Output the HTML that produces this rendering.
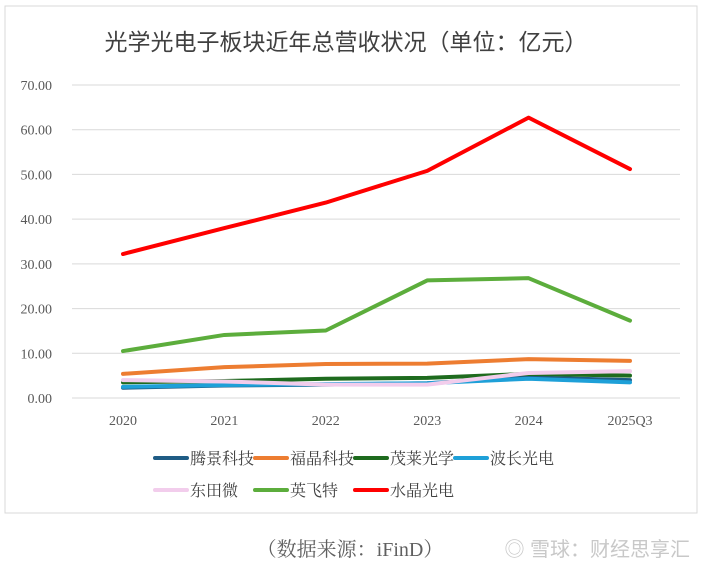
<!DOCTYPE html>
<html><head><meta charset="utf-8"><style>
body{margin:0;background:#fff;width:705px;height:567px;overflow:hidden;font-family:"Liberation Serif","Noto Serif CJK SC",serif}
</style></head><body>
<svg id="c" width="705" height="567" xmlns="http://www.w3.org/2000/svg">
<rect x="5" y="6" width="692" height="507" fill="#fff" stroke="#d9d9d9"/>
<text x="346" y="50" text-anchor="middle" font-size="23" fill="#404040" font-family="Liberation Sans,Noto Sans CJK SC,sans-serif">光学光电子板块近年总营收状况（单位：亿元）</text>
<text x="350" y="556" text-anchor="middle" font-size="20" fill="#606060">（数据来源：iFinD）</text>
<text x="690" y="556" text-anchor="end" font-size="20" fill="#c8c8c8" font-family="Liberation Sans,Noto Sans CJK SC,sans-serif">◎ 雪球：财经思享汇</text>
<g id="plot"></g>
</svg>
<script>
const categories=["2020","2021","2022","2023","2024","2025Q3"];
const yTicks=["0.00","10.00","20.00","30.00","40.00","50.00","60.00","70.00"];
const names=["腾景科技","福晶科技","茂莱光学","波长光电","东田微","英飞特","水晶光电"];
const colors=["#1f5c85","#ed7d31","#1e6b1e","#1ea0d8","#f2cdec","#5cad3c","#ff0000"];
const sTengjing=[2.3,2.8,3.0,3.3,4.6,4.0];
const sFujing=[5.4,6.9,7.6,7.7,8.7,8.3];
const sMaolai=[3.5,3.8,4.3,4.5,5.4,5.0];
const sBochang=[2.5,2.9,3.1,3.3,4.3,3.5];
const sDongtian=[4.0,3.7,3.0,3.0,5.6,6.0];
const sYingfeite=[10.5,14.1,15.1,26.3,26.8,17.3];
const sShuijing=[32.2,38.0,43.7,50.8,62.7,51.2];
const series=[sTengjing,sFujing,sMaolai,sBochang,sDongtian,sYingfeite,sShuijing];
const NS="http://www.w3.org/2000/svg";
const g=document.getElementById('plot');
const x=i=>123+i*101.4, y=v=>398-v*(313/70);
function mk(t,a,p){const e=document.createElementNS(NS,t);for(const k in a)e.setAttribute(k,a[k]);(p||g).appendChild(e);return e;}
yTicks.forEach((t,i)=>{const v=parseFloat(t);
 const l=mk('line',{x1:72,x2:680,y1:y(v),y2:y(v),stroke:'#d9d9d9','stroke-width':1});
 
 
 const tx=mk('text',{x:52,y:y(v)+5,'text-anchor':'end','font-size':14,fill:'#595959'});tx.textContent=t;
 
 
});
categories.forEach((c,i)=>{const tx=mk('text',{x:x(i),y:425,'text-anchor':'middle','font-size':14,fill:'#595959'});tx.textContent=c;
 
 
});
series.forEach((s,k)=>{
 const p=mk('polyline',{points:s.map((v,i)=>x(i)+','+y(v)).join(' '),fill:'none',stroke:colors[k],'stroke-width':4,'stroke-linejoin':'round','stroke-linecap':'round'});
 
 
});
names.forEach((n,k)=>{const r=k<4?0:1,c=k<4?k:k-4;const lx=155+c*100,ly=458+r*32;
 const l=mk('line',{x1:lx,x2:lx+32,y1:ly,y2:ly,stroke:colors[k],'stroke-width':4,'stroke-linecap':'round'});
 
 
 const t=mk('text',{x:lx+35,y:ly+6,'font-size':16,fill:'#404040'});t.textContent=n;
 
 
});
</script>
</body></html>
